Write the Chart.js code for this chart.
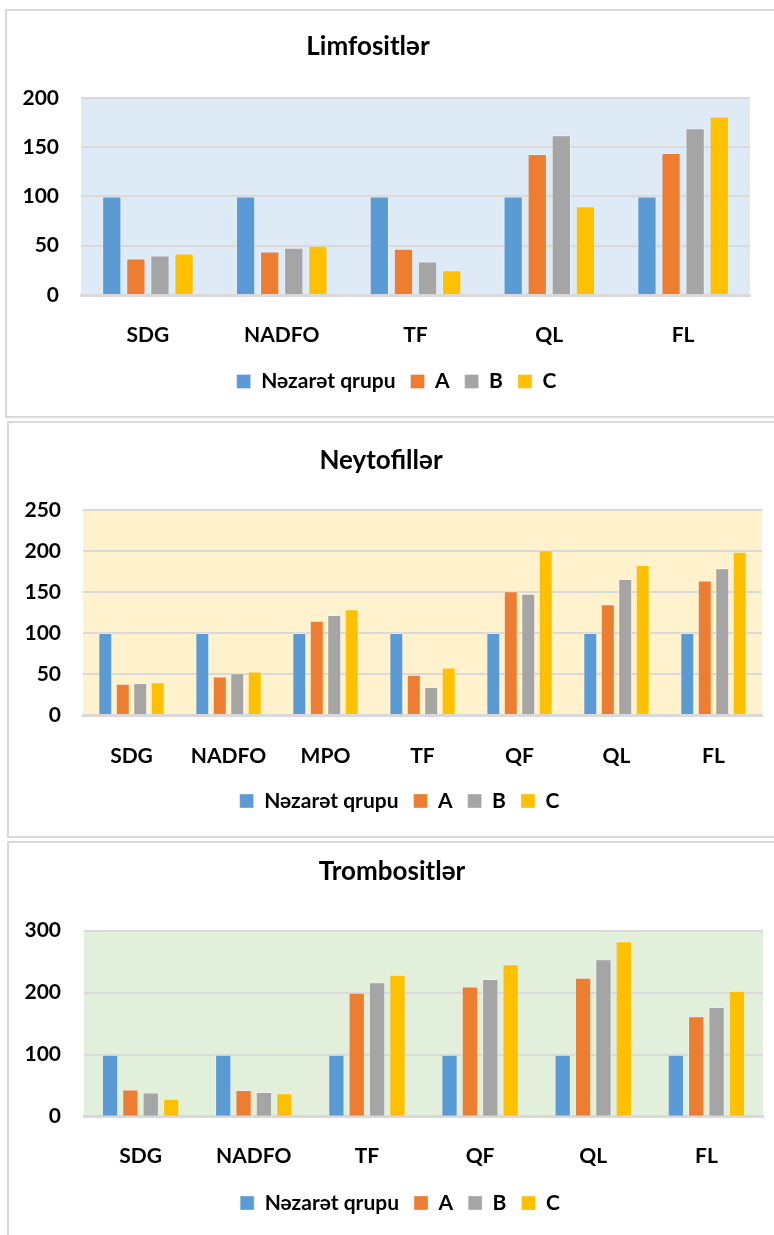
<!DOCTYPE html>
<html lang="az">
<head>
<meta charset="UTF-8">
<title>Limfositlər, Neytofillər, Trombositlər</title>
<script src="https://cdn.jsdelivr.net/npm/chart.js"></script>
<style>
  body {
    margin: 0;
    background: #fff;
    width: 774px;
    height: 1235px;
    overflow: hidden;
    position: relative;
    font-family: Lato, sans-serif;
  }
  .card {
    position: absolute;
    border: 2px solid #d9d9d9;
    background: #fff;
  }
  #card1 { left: 5px; top: 9px; width: 771px; height: 405px; }
  #card2 { left: 7px; top: 421px; width: 771px; height: 413px; }
  #card3 { left: 7px; top: 841px; width: 771px; height: 400px; }
</style>
</head>
<body>
  <div class="card" id="card1"><canvas id="limfChart"></canvas></div>
  <div class="card" id="card2"><canvas id="neytChart"></canvas></div>
  <div class="card" id="card3"><canvas id="trombChart"></canvas></div>
<script>
  // legend / series
  const seriesNames = ['Nəzarət qrupu', 'A', 'B', 'C'];
  const seriesColors = ['#5b9bd5', '#ed7d31', '#a5a5a5', '#ffc000'];

  // Limfositlər
  const limfCategories = ['SDG', 'NADFO', 'TF', 'QL', 'FL'];
  const limfControl = [100, 100, 100, 100, 100];
  const limfA = [37, 44, 47, 143, 144];
  const limfB = [40, 48, 34, 162, 169];
  const limfC = [42, 50, 25, 90, 181];
  const limfTicks = [0, 50, 100, 150, 200];

  // Neytofillər
  const neytCategories = ['SDG', 'NADFO', 'MPO', 'TF', 'QF', 'QL', 'FL'];
  const neytControl = [100, 100, 100, 100, 100, 100, 100];
  const neytA = [38, 47, 115, 49, 151, 135, 164];
  const neytB = [39, 51, 122, 34, 148, 166, 179];
  const neytC = [40, 53, 129, 58, 201, 183, 199];
  const neytTicks = [0, 50, 100, 150, 200, 250];

  // Trombositlər
  const trombCategories = ['SDG', 'NADFO', 'TF', 'QF', 'QL', 'FL'];
  const trombControl = [100, 100, 100, 100, 100, 100];
  const trombA = [44, 43, 200, 210, 224, 162];
  const trombB = [39, 40, 217, 222, 254, 177];
  const trombC = [29, 38, 229, 246, 283, 203];
  const trombTicks = [0, 100, 200, 300];

  Chart.defaults.font.family = 'Lato, sans-serif';
  Chart.defaults.font.weight = 'bold';
  Chart.defaults.color = '#000';

  // fill of the plot area
  const plotBg = {
    id: 'plotBg',
    beforeDraw(chart, args, opts) {
      const { ctx, chartArea: a } = chart;
      ctx.save();
      ctx.fillStyle = opts.color;
      ctx.fillRect(a.left, a.top, a.right - a.left, a.bottom - a.top);
      ctx.restore();
    }
  };

  // nudge title and legend sideways, like the hand placed ones in the original
  const shiftBoxes = {
    id: 'shiftBoxes',
    afterLayout(chart, args, opts) {
      if (chart.titleBlock) {
        chart.titleBlock.left += opts.title;
        chart.titleBlock.right += opts.title;
      }
      if (chart.legend) {
        chart.legend.left += opts.legend;
        chart.legend.right += opts.legend;
      }
    }
  };

  function buildChart(id, s) {
    return new Chart(document.getElementById(id), {
      type: 'bar',
      data: {
        labels: s.labels,
        datasets: s.values.map((vals, i) => ({
          label: seriesNames[i],
          data: vals,
          backgroundColor: seriesColors[i],
          borderColor: 'rgba(255,255,255,0.35)',
          borderWidth: 1,
          categoryPercentage: 0.72,
          barPercentage: 0.8
        }))
      },
      options: {
        responsive: true,
        maintainAspectRatio: false,
        animation: false,
        layout: { padding: s.pad },
        plugins: {
          plotBg: { color: s.bg },
          shiftBoxes: s.shift,
          tooltip: { enabled: false },
          title: {
            display: true,
            text: s.title,
            font: { size: 26, weight: 'bold', lineHeight: 1.2 },
            padding: s.titlePad
          },
          legend: {
            position: 'bottom',
            labels: {
              boxWidth: 14,
              boxHeight: 14,
              padding: 15,
              font: { size: 21, weight: 'bold' }
            }
          }
        },
        scales: {
          x: {
            grid: { display: false },
            border: { display: true, color: '#d9d9d9', width: 3 },
            ticks: { font: { size: 21, weight: 'bold' }, padding: s.xPad },
            afterFit: scale => { scale.height = s.xH; }
          },
          y: {
            min: s.ticks[0],
            max: s.ticks[s.ticks.length - 1],
            grid: { color: '#d9d9d9', lineWidth: 2, drawTicks: false },
            border: { display: false },
            ticks: { stepSize: s.ticks[1] - s.ticks[0], font: { size: 21, weight: 'bold' }, padding: s.yPad },
            afterFit: scale => { scale.width = s.yW; }
          }
        }
      },
      plugins: [plotBg, shiftBoxes]
    });
  }

  buildChart('limfChart', {
    title: 'Limfositlər',
    labels: limfCategories,
    values: [limfControl, limfA, limfB, limfC],
    ticks: limfTicks,
    bg: '#deebf7',
    pad: { top: 0, left: 0, right: 28, bottom: 14 },
    titlePad: { top: 19.8, bottom: 35.8 },
    xPad: 20, xH: 61, yPad: 22, yW: 74,
    shift: { title: -10.5, legend: 18 }
  });

  buildChart('neytChart', {
    title: 'Neytofillər',
    labels: neytCategories,
    values: [neytControl, neytA, neytB, neytC],
    ticks: neytTicks,
    bg: '#fff2cc',
    pad: { top: 0, left: 0, right: 18, bottom: 14.5 },
    titlePad: { top: 22.4, bottom: 33.4 },
    xPad: 20.4, xH: 60.5, yPad: 22, yW: 74,
    shift: { title: -4.5, legend: 14 }
  });

  buildChart('trombChart', {
    title: 'Trombositlər',
    labels: trombCategories,
    values: [trombControl, trombA, trombB, trombC],
    ticks: trombTicks,
    bg: '#e2efda',
    pad: { top: 0, left: 0, right: 17, bottom: 19.5 },
    titlePad: { top: 13.4, bottom: 43.1 },
    xPad: 18.7, xH: 60.8, yPad: 23, yW: 75,
    shift: { title: 6, legend: 14 }
  });
</script>
</body>
</html>
